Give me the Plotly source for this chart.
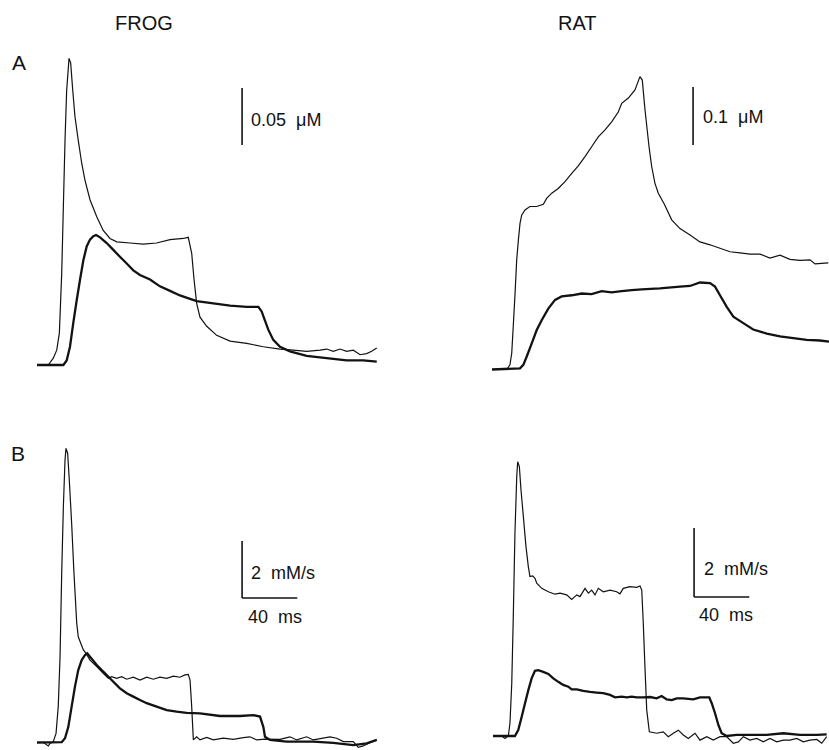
import plotly.graph_objects as go

# ---------------- data (time in ms) ----------------
# FROG A: [Ca2+] transients, micromolar
frogA_thin_t = [0, 8.2, 11.8, 14.3, 16.2, 17.9, 19.1, 20.3, 21.5, 23.2, 24.4, 25.9, 27.5, 29.9, 32.4, 34.8,
                38.4, 43.3, 48.0, 52.9, 57.8, 67.4, 77.0, 86.7, 96.4, 106.0, 109.6, 112.1, 113.8, 115.7,
                118.1, 123.0, 130.2, 139.9, 152.0, 164.0, 176.1, 185.7, 195.4, 205.1, 209.9, 214.7, 219.6,
                224.4, 229.2, 234.1, 238.9, 242.5, 246.2]
frogA_thin_v = [0, 0, 0.006, 0.013, 0.028, 0.080, 0.139, 0.197, 0.241, 0.269, 0.265, 0.241, 0.218, 0.197,
                0.177, 0.162, 0.145, 0.130, 0.118, 0.111, 0.108, 0.107, 0.106, 0.107, 0.110, 0.111, 0.112,
                0.098, 0.075, 0.054, 0.042, 0.034, 0.026, 0.021, 0.019, 0.016, 0.014, 0.013, 0.012, 0.013,
                0.014, 0.012, 0.014, 0.012, 0.013, 0.009, 0.010, 0.012, 0.015]
frogA_thick_t = [0, 19.1, 21.5, 23.9, 26.3, 28.8, 31.2, 33.6, 36.0, 38.4, 40.8, 42.8, 45.7, 50.5, 55.3, 60.1,
                 65.0, 69.8, 74.6, 81.9, 89.1, 96.4, 103.6, 110.9, 115.7, 127.8, 139.9, 152.0, 160.4, 162.8,
                 165.2, 167.6, 171.2, 176.1, 183.3, 195.4, 209.9, 224.4, 236.4, 246.2]
frogA_thick_v = [0, 0, 0.004, 0.016, 0.037, 0.057, 0.075, 0.092, 0.104, 0.110, 0.113, 0.114, 0.112, 0.107,
                 0.101, 0.095, 0.089, 0.083, 0.079, 0.075, 0.069, 0.065, 0.061, 0.058, 0.056, 0.054, 0.052,
                 0.051, 0.051, 0.047, 0.039, 0.031, 0.022, 0.016, 0.012, 0.008, 0.006, 0.004, 0.004, 0.003]

# RAT A: [Ca2+] transients, micromolar
ratA_thin_t = [0, 10.7, 13.0, 14.3, 15.4, 16.7, 17.9, 19.1, 20.3, 21.5, 23.9, 27.5, 32.4, 37.2, 39.6, 43.3,
               48.0, 52.9, 57.8, 62.5, 67.4, 72.2, 77.0, 81.9, 86.7, 91.5, 94.0, 98.8, 103.6, 107.2, 108.9,
               110.9, 113.8, 115.7, 118.1, 120.5, 124.9, 130.2, 136.2, 143.5, 150.7, 158.0, 165.2, 172.5,
               179.7, 187.0, 194.2, 201.4, 208.7, 215.9, 223.2, 230.4, 234.1, 243.7]
ratA_thin_v = [0, 0, 0.008, 0.028, 0.074, 0.131, 0.189, 0.223, 0.252, 0.266, 0.275, 0.281, 0.281, 0.285,
               0.295, 0.304, 0.312, 0.324, 0.338, 0.351, 0.367, 0.384, 0.401, 0.413, 0.427, 0.444, 0.459,
               0.468, 0.482, 0.505, 0.499, 0.447, 0.384, 0.350, 0.321, 0.304, 0.285, 0.258, 0.243, 0.232,
               0.220, 0.215, 0.209, 0.203, 0.201, 0.199, 0.199, 0.192, 0.197, 0.190, 0.188, 0.189, 0.182,
               0.184]
ratA_thick_t = [0, 20.3, 22.7, 25.1, 28.8, 32.4, 36.0, 40.8, 45.7, 50.5, 57.8, 65.0, 72.2, 79.5, 86.7, 94.0,
                101.2, 108.5, 121.7, 136.2, 143.5, 150.7, 158.0, 161.6, 165.2, 170.1, 174.9, 182.1, 189.3,
                199.1, 208.7, 218.3, 228.0, 237.7, 244.2]
ratA_thick_v = [0, 0.002, 0.008, 0.022, 0.045, 0.068, 0.085, 0.105, 0.120, 0.126, 0.128, 0.131, 0.130, 0.135,
                0.133, 0.135, 0.137, 0.138, 0.140, 0.143, 0.144, 0.150, 0.149, 0.143, 0.128, 0.108, 0.091,
                0.080, 0.069, 0.062, 0.057, 0.054, 0.051, 0.050, 0.048]

# FROG B: release flux, mM/s
frogB_thin_t = [0, 4.6, 8.2, 9.4, 11.8, 13.8, 15.4, 16.7, 17.9, 19.1, 20.3, 21.0, 22.2, 23.4, 25.1, 26.8,
                28.8, 29.9, 31.7, 33.6, 35.5, 38.4, 43.3, 48.0, 51.7, 54.1, 57.8, 61.4, 65.0, 69.8, 74.6,
                79.5, 84.3, 89.1, 94.0, 98.8, 103.6, 107.2, 109.6, 110.9, 112.1, 113.3, 115.7, 118.1, 123.0,
                127.8, 135.0, 142.2, 149.5, 154.3, 159.2, 165.2, 176.1, 183.3, 188.2, 195.4, 200.2, 212.3,
                217.2, 222.0, 229.2, 232.8, 236.4, 241.3, 246.2]
frogB_thin_v = [0, 0.0, -0.12, -0.03, 0.03, 0.32, 1.26, 3.01, 5.94, 8.27, 9.91, 10.32, 10.15, 9.21, 7.69,
                5.94, 4.18, 3.71, 3.48, 3.25, 3.13, 2.89, 2.66, 2.43, 2.25, 2.31, 2.25, 2.31, 2.22, 2.29,
                2.19, 2.29, 2.22, 2.29, 2.25, 2.33, 2.29, 2.37, 2.39, 2.19, 1.26, 0.09, 0.20, 0.09, 0.18,
                0.09, 0.15, 0.11, 0.17, 0.20, 0.09, 0.12, 0.11, 0.20, 0.09, 0.20, 0.09, 0.20, 0.15, 0.03,
                0.03, -0.17, -0.12, -0.01, 0.09]
frogB_thick_t = [0, 17.9, 20.3, 22.7, 25.1, 27.5, 29.9, 32.4, 34.8, 36.4, 38.4, 40.8, 43.3, 46.9, 50.5, 55.3,
                 60.1, 65.0, 69.8, 74.6, 79.5, 86.7, 94.0, 101.2, 108.5, 118.1, 132.6, 147.1, 156.7, 161.6,
                 164.0, 165.2, 168.8, 180.9, 200.2, 214.7, 229.2, 238.9, 246.2]
frogB_thick_v = [0, 0.01, 0.15, 0.55, 1.26, 1.96, 2.54, 2.89, 3.07, 3.13, 3.01, 2.87, 2.72, 2.54, 2.37, 2.13,
                 1.90, 1.73, 1.61, 1.49, 1.38, 1.26, 1.14, 1.08, 1.04, 1.02, 0.93, 0.93, 0.96, 0.91, 0.55,
                 0.20, 0.09, 0.03, 0.03, -0.01, -0.09, -0.03, 0.09]

# RAT B: release flux, mM/s
ratB_thin_t = [0, 6.3, 8.7, 11.1, 12.3, 13.6, 14.7, 15.9, 17.2, 17.9, 19.1, 20.3, 22.0, 23.9, 25.6, 26.8,
               28.8, 30.4, 31.7, 35.3, 40.1, 44.9, 48.6, 53.4, 57.0, 60.7, 63.0, 66.7, 69.1, 71.5, 73.9,
               76.3, 79.9, 84.8, 89.6, 92.0, 94.4, 99.3, 104.1, 106.5, 107.8, 108.9, 110.1, 111.4, 113.3,
               118.6, 123.4, 127.0, 130.7, 134.3, 137.9, 141.5, 146.4, 150.0, 154.9, 159.6, 164.5, 169.3,
               174.1, 177.8, 181.4, 186.2, 191.1, 195.9, 200.7, 205.6, 210.4, 215.2, 220.1, 224.9, 229.7,
               234.6, 238.2, 241.8]
ratB_thin_v = [0, 0, -0.07, 0, 0.37, 1.53, 3.46, 5.88, 7.52, 7.95, 7.81, 7.13, 6.36, 5.49, 4.91, 4.62, 4.64,
               4.57, 4.43, 4.28, 4.18, 4.11, 4.14, 4.09, 3.96, 4.09, 4.04, 4.28, 4.14, 4.23, 4.09, 4.28,
               4.18, 4.23, 4.18, 4.12, 4.28, 4.33, 4.31, 4.35, 4.23, 3.27, 2.01, 0.75, 0.12, 0.08, 0.12,
               -0.02, 0.08, 0.17, 0.03, -0.07, 0.08, -0.12, -0.02, -0.12, -0.02, -0.02, -0.21, -0.17,
               -0.02, -0.12, -0.07, -0.17, -0.07, -0.17, -0.12, -0.12, -0.07, -0.17, -0.12, -0.10, -0.21,
               -0.02]
ratB_thick_t = [0, 15.9, 18.3, 20.8, 23.2, 25.6, 28.0, 30.4, 32.8, 36.4, 40.1, 43.7, 47.3, 50.9, 54.6, 57.0,
                60.7, 65.4, 70.3, 75.1, 79.9, 84.8, 88.4, 93.3, 96.9, 100.5, 104.1, 108.9, 113.8, 118.6,
                122.2, 125.9, 129.5, 133.1, 137.9, 145.1, 150.0, 156.7, 158.5, 160.9, 163.3, 165.7, 169.3,
                176.6, 186.2, 198.3, 210.4, 222.5, 234.6, 241.8]
ratB_thick_v = [0, 0, 0.17, 0.56, 0.95, 1.33, 1.67, 1.89, 1.91, 1.86, 1.80, 1.67, 1.57, 1.48, 1.43, 1.35,
                1.35, 1.31, 1.28, 1.26, 1.24, 1.19, 1.12, 1.14, 1.12, 1.14, 1.12, 1.12, 1.13, 1.09, 1.16,
                1.06, 1.04, 1.09, 1.09, 1.06, 1.12, 1.12, 0.95, 0.66, 0.32, 0.08, 0.00, 0.03, 0.03, 0.03,
                0.08, 0.03, 0.03, 0.05]

# scale-bar values and labels
frogA_bar = 0.05      # micromolar
ratA_bar = 0.1        # micromolar
flux_bar = 2.0        # mM/s
time_bar = 40.0       # ms
column_titles = ["FROG", "RAT"]
row_labels = ["A", "B"]

# ---------------- layout geometry (pixels) ----------------
W, H = 829, 750
PX_PER_MS = 1.38
INK = "#121212"
FONT = "Liberation Sans, Arial, Helvetica, sans-serif"

# panel: (x-axis id, y-axis id, col, row, t0 px, baseline px, px per unit)
panels = {
    "frogA": ("x", "y", 0, 0, 37.0, 365.0, 1140.0),
    "ratA": ("x2", "y2", 1, 0, 492.0, 369.5, 580.0),
    "frogB": ("x3", "y3", 0, 1, 37.0, 742.5, 28.5),
    "ratB": ("x4", "y4", 1, 1, 493.0, 736.0, 34.5),
}

fig = go.Figure()
layout = {}
for name, (xa, ya, col, row, t0, base, scale) in panels.items():
    xd = [col * 0.5, col * 0.5 + 0.5]
    yd = [0.5 - row * 0.5, 1.0 - row * 0.5]
    left_px, right_px = xd[0] * W, xd[1] * W
    top_px, bottom_px = (1 - yd[1]) * H, (1 - yd[0]) * H
    xr = [(left_px - t0) / PX_PER_MS, (right_px - t0) / PX_PER_MS]
    yr = [(base - bottom_px) / scale, (base - top_px) / scale]
    xkey = "xaxis" + xa[1:]
    ykey = "yaxis" + ya[1:]
    layout[xkey] = dict(domain=xd, range=xr, visible=False, anchor=ya, fixedrange=True)
    layout[ykey] = dict(domain=yd, range=yr, visible=False, anchor=xa, fixedrange=True)

def add_line(t, v, xa, ya, width):
    fig.add_trace(go.Scatter(x=t, y=v, xaxis=xa, yaxis=ya, mode="lines",
                             line=dict(color=INK, width=width, shape="linear", simplify=False),
                             showlegend=False, hoverinfo="skip"))

add_line(frogA_thin_t, frogA_thin_v, "x", "y", 1.2)
add_line(frogA_thick_t, frogA_thick_v, "x", "y", 2.3)
add_line(ratA_thin_t, ratA_thin_v, "x2", "y2", 1.2)
add_line(ratA_thick_t, ratA_thick_v, "x2", "y2", 2.3)
add_line(frogB_thin_t, frogB_thin_v, "x3", "y3", 1.2)
add_line(frogB_thick_t, frogB_thick_v, "x3", "y3", 2.3)
add_line(ratB_thin_t, ratB_thin_v, "x4", "y4", 1.2)
add_line(ratB_thick_t, ratB_thick_v, "x4", "y4", 2.3)

annotations = []
def label(text, x, y, xa, ya, size=18):
    annotations.append(dict(text=text, x=x, y=y, xref=xa, yref=ya, showarrow=False,
                            xanchor="left", yanchor="middle",
                            font=dict(family=FONT, size=size, color=INK)))

BAR_W = 1.6
# calibration bars
# FROG A
tb = 148.6
add_line([tb, tb], [0.193, 0.193 + frogA_bar], "x", "y", BAR_W)
label("0.05  \u03bcM", 153.6, 0.215, "x", "y")
# RAT A
tb = 145.7
add_line([tb, tb], [0.387, 0.387 + ratA_bar], "x2", "y2", BAR_W)
label("0.1  \u03bcM", 151.5, 0.435, "x2", "y2")
# FROG B
tb, vb = 148.6, 5.07
add_line([tb, tb], [vb, vb + flux_bar], "x3", "y3", BAR_W)
add_line([tb, tb + time_bar], [vb, vb], "x3", "y3", BAR_W)
label("2  mM/s", 153.6, 5.95, "x3", "y3")
label("40  ms", 151.5, 4.40, "x3", "y3")
# RAT B
tb, vb = 145.7, 4.03
add_line([tb, tb], [vb, vb + flux_bar], "x4", "y4", BAR_W)
add_line([tb, tb + time_bar], [vb, vb], "x4", "y4", BAR_W)
label("2  mM/s", 151.5, 4.84, "x4", "y4")
label("40  ms", 148.0, 3.51, "x4", "y4")

# column titles and row labels (paper coords from pixel positions)
for text, px, py in [(column_titles[0], 144, 23), (column_titles[1], 577, 23)]:
    annotations.append(dict(text=text, x=px / W, y=1 - py / H, xref="paper", yref="paper",
                            showarrow=False, xanchor="center", yanchor="middle",
                            font=dict(family=FONT, size=20, color=INK)))
for text, px, py in [(row_labels[0], 19, 62), (row_labels[1], 18, 453)]:
    annotations.append(dict(text=text, x=px / W, y=1 - py / H, xref="paper", yref="paper",
                            showarrow=False, xanchor="center", yanchor="middle",
                            font=dict(family=FONT, size=21, color=INK)))

fig.update_layout(width=W, height=H, margin=dict(l=0, r=0, t=0, b=0),
                  paper_bgcolor="white", plot_bgcolor="rgba(0,0,0,0)",
                  annotations=annotations, showlegend=False, **layout)

fig.write_html("out.html", config={"displayModeBar": False})
